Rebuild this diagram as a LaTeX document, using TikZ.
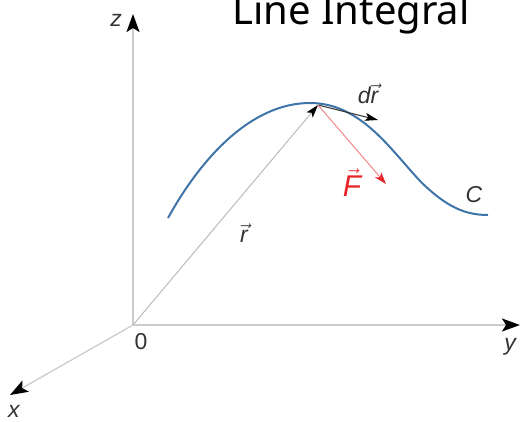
\documentclass[tikz,border=0pt]{standalone}
\usepackage{fontspec}
\setmainfont{Liberation Sans}
\newfontfamily\titlefont{Noto Sans}
\usetikzlibrary{arrows.meta}
\definecolor{axisgray}{HTML}{CCCCCC}
\definecolor{vecgray}{HTML}{BBBBBB}
\definecolor{curveblue}{HTML}{3F74A9}
\definecolor{fred}{HTML}{E8262A}
\definecolor{labgray}{HTML}{333333}
\tikzset{
  axis/.style={draw=axisgray, line width=2pt, -{Stealth[length=18pt,width=13pt,inset=4pt,color=black]}},
  lab/.style={font=\fontsize{23}{23}\selectfont\itshape, text=labgray, inner sep=0pt},
}
\begin{document}
\begin{tikzpicture}[x=1pt,y=-1pt]
\useasboundingbox (0,0) rectangle (521,422);
\coordinate (O) at (133,325);
\coordinate (Z) at (133,14);
\coordinate (Y) at (520,325);
\coordinate (X) at (10,395);
\coordinate (P) at (318,105);
\coordinate (D) at (378,120);
\coordinate (Fe) at (386,184);
\draw[axis] (O) -- (Z);
\draw[axis] (O) -- (Y);
\draw[axis, line width=1.3pt] (O) -- (X);
\draw[curveblue, line width=2pt] (168,218) .. controls (200,160) and (250,103) .. (310,103)
  .. controls (362,103) and (392,152) .. (422,183)
  .. controls (447,207) and (465,215) .. (488,215);
\draw[vecgray, line width=1pt, -{Stealth[length=13pt,width=8pt,inset=3pt,color=black]}] (O) -- (P);
\draw[black!80, line width=1pt, -{Stealth[length=13pt,width=8pt,inset=3pt,color=black]}] (P) -- (D);
\draw[fred!60, line width=0.9pt, -{Stealth[length=12pt,width=8pt,inset=3pt,color=fred]}] (P) -- (Fe);
\node[lab] (zl) at (116,20) {z};
\node[lab] (xl) at (14,411) {x};
\node[lab] (yl) at (510,347) {y};
\node[lab, font=\fontsize{23}{23}\selectfont\upshape] (zero) at (141,342) {0};
\node[lab] (cl) at (474,195) {C};
\node[lab] (rl) at (244,233) {$\vec{\mbox{\itshape r}}$};
\node[lab] (drl) at (368,94) {d$\vec{\mbox{\itshape r}}$};
\node[lab, text=fred, font=\fontsize{30}{30}\selectfont\itshape] (fl) at (352,183) {$\vec{\mbox{\itshape F}}$};
\node[font=\titlefont\fontsize{40}{40}\selectfont, anchor=base, inner sep=0pt] (title) at (351,25) {Line Integral};
\end{tikzpicture}
\end{document}
